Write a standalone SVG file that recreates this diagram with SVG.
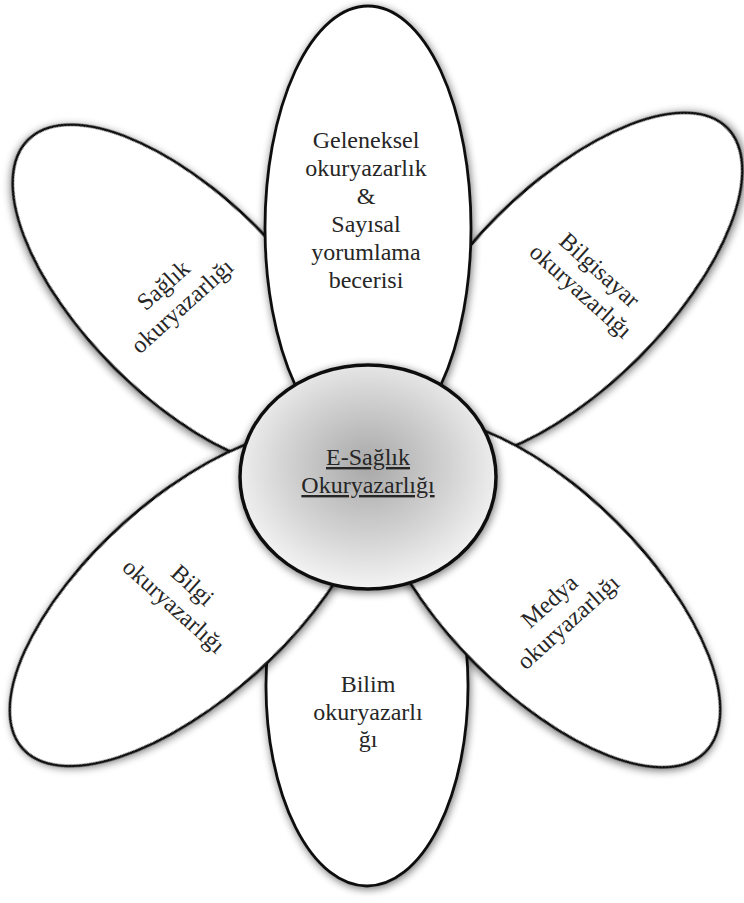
<svg xmlns="http://www.w3.org/2000/svg" width="744" height="903" viewBox="0 0 744 903">
<defs>
<filter id="sh" x="-20%" y="-20%" width="140%" height="140%">
<feGaussianBlur in="SourceAlpha" stdDeviation="4"/>
<feOffset dx="1" dy="2"/>
<feComponentTransfer><feFuncA type="linear" slope="0.55"/></feComponentTransfer>
<feMerge><feMergeNode/><feMergeNode in="SourceGraphic"/></feMerge>
</filter>
<radialGradient id="cg" cx="50%" cy="45%" r="55%">
<stop offset="0" stop-color="#a8a8a8"/>
<stop offset="0.6" stop-color="#d4d4d4"/>
<stop offset="1" stop-color="#f4f4f4"/>
</radialGradient>
</defs>
<style>
.petal{fill:#ffffff;stroke:#111111;stroke-width:2.8;filter:url(#sh)}
.hub{fill:url(#cg);stroke:#111111;stroke-width:3.5;filter:url(#sh)}
text{font-family:"Liberation Serif","Times New Roman",serif;font-size:24px;fill:#262626;text-anchor:middle}
.u{text-decoration:underline}
</style>
<rect width="744" height="903" fill="#ffffff"/>
<g id="connectors"></g>
<g id="petal-saglik">
<ellipse class="petal" cx="0" cy="0" rx="222" ry="100" transform="translate(185,297) rotate(45)"/>
<g transform="translate(174,297) rotate(-42)"><text x="0" y="-8">Sağlık</text><text x="0" y="20">okuryazarlığı</text></g>
</g>
<g id="petal-bilgisayar">
<ellipse class="petal" cx="0" cy="0" rx="225" ry="100" transform="translate(568,287) rotate(-45)"/>
<g transform="translate(589,282) rotate(42)"><text x="0" y="-8">Bilgisayar</text><text x="0" y="20">okuryazarlığı</text></g>
</g>
<g id="petal-bilim">
<ellipse class="petal" cx="367" cy="686" rx="101" ry="200"/>
<text x="368" y="692">Bilim</text>
<text x="368" y="720">okuryazarlı</text>
<text x="368" y="747">ğı</text>
</g>
<g id="petal-geleneksel">
<ellipse class="petal" cx="368" cy="228" rx="103" ry="222"/>
<text x="366" y="148">Geleneksel</text>
<text x="366" y="176">okuryazarlık</text>
<text x="366" y="204">&amp;</text>
<text x="366" y="232">Sayısal</text>
<text x="366" y="260">yorumlama</text>
<text x="366" y="288">becerisi</text>
</g>
<g id="petal-bilgi">
<ellipse class="petal" cx="0" cy="0" rx="225" ry="100" transform="translate(190,598) rotate(-42)"/>
<g transform="translate(182,597) rotate(42)"><text x="0" y="-8">Bilgi</text><text x="0" y="20">okuryazarlığı</text></g>
</g>
<g id="petal-medya">
<ellipse class="petal" cx="0" cy="0" rx="225" ry="100" transform="translate(546,593) rotate(45)"/>
<g transform="translate(560,613) rotate(-42)"><text x="0" y="-8">Medya</text><text x="0" y="20">okuryazarlığı</text></g>
</g>
<g id="hub">
<ellipse class="hub" cx="368" cy="477" rx="128" ry="112"/>
<text class="u" x="368" y="465">E-Sağlık</text>
<text class="u" x="368" y="493">Okuryazarlığı</text>
</g>
</svg>
